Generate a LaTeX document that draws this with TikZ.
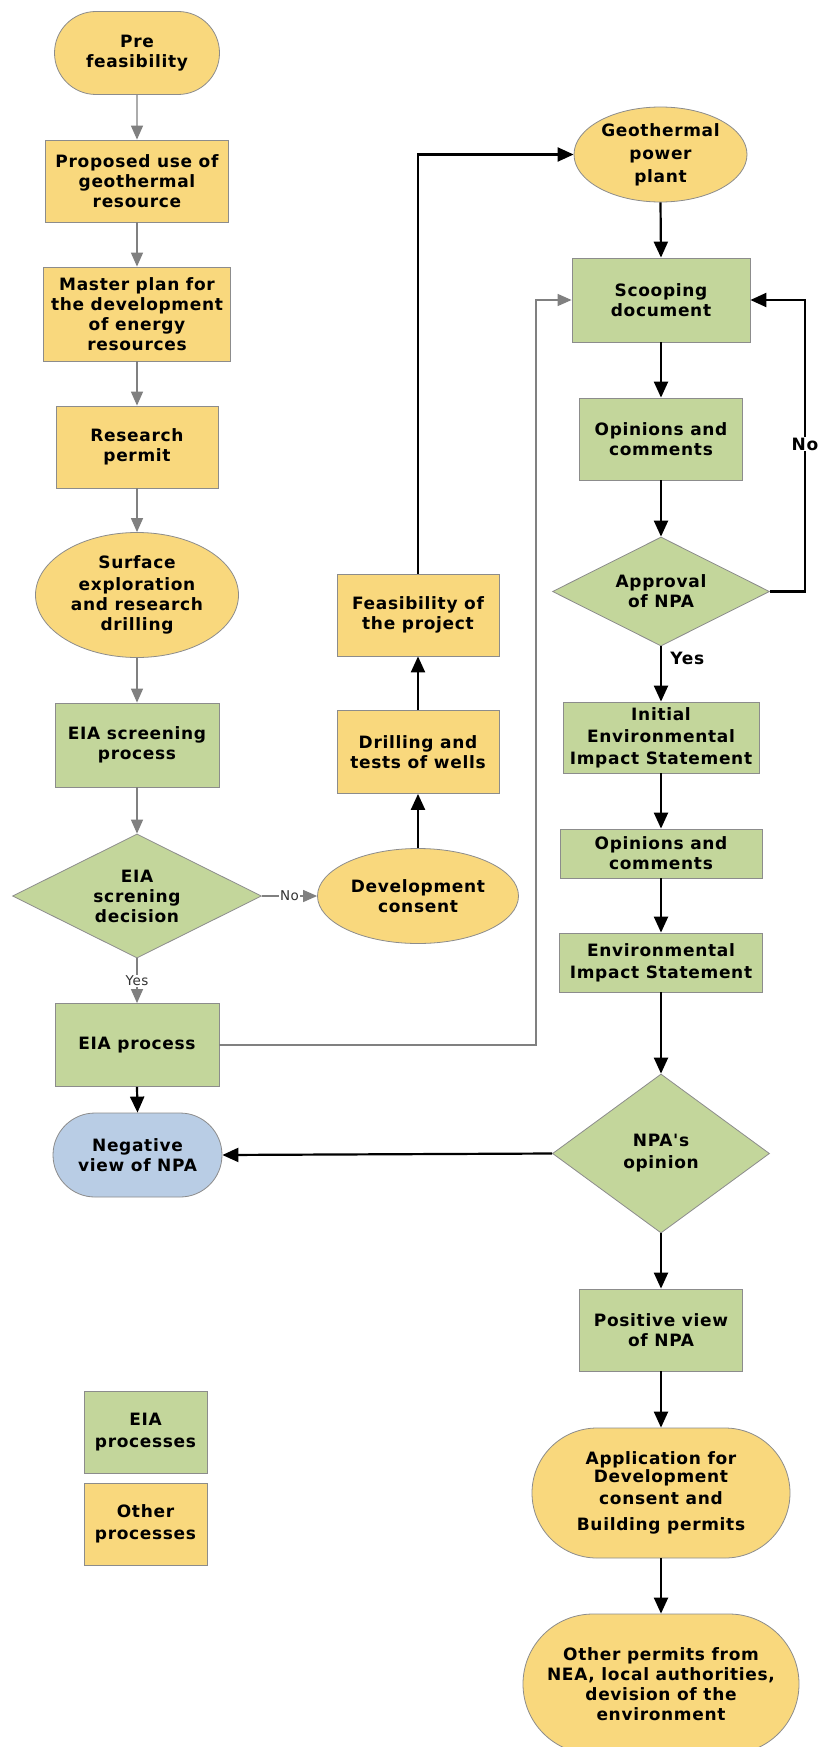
\documentclass[tikz,border=0pt]{standalone}
\usepackage{fontspec}
\setmainfont{DejaVu Sans}[Ligatures=TeXOff, LetterSpace=4]
\usetikzlibrary{shapes.geometric,shapes.misc,arrows.meta}
\definecolor{yel}{HTML}{F9D87D}
\definecolor{grn}{HTML}{C3D69B}
\definecolor{blu}{HTML}{B9CDE5}
\definecolor{bord}{HTML}{8C8C8C}
\definecolor{lgray}{HTML}{808080}
\definecolor{lbltxt}{HTML}{333333}
\newcommand{\nfont}{\fontsize{17}{20}\selectfont\bfseries}
\newcommand{\lfont}{\fontsize{13.5}{15}\selectfont}
\tikzset{
  base/.style={draw=bord, line width=0.8pt, align=center, inner sep=0pt, font=\nfont, text=black},
  sz/.style 2 args={minimum width=#1pt, minimum height=#2pt},
  ybox/.style={base, rectangle, fill=yel},
  gbox/.style={base, rectangle, fill=grn},
  ystad/.style={base, rounded rectangle, fill=yel},
  bstad/.style={base, rounded rectangle, fill=blu},
  yell/.style={base, ellipse, fill=yel},
  gdia/.style={base, diamond, aspect=2, fill=grn},
  garrow/.style={draw=lgray, line width=1.3pt, -{Triangle[width=12pt,length=14pt]}},
  barrow/.style={draw=black, line width=2.2pt, -{Triangle[width=14pt,length=16pt]}},
  glbl/.style={fill=white, font=\lfont, text=lbltxt, inner sep=1pt},
  blbl/.style={fill=white, font=\nfont, text=black, inner sep=1pt},
}
\begin{document}
\begin{tikzpicture}[x=1pt,y=-1pt]
\useasboundingbox[fill=white] (0,0) rectangle (817,1747);
% left column
\node[ystad, sz={165}{83}] (pre) at (137,53) {Pre\\feasibility};
\node[ybox, sz={183}{82}] (prop) at (137,181) {Proposed use of\\geothermal\\resource};
\node[ybox, sz={187}{94}] (master) at (137,314) {Master plan for\\the development\\of energy\\resources};
\node[ybox, sz={162}{82}] (research) at (137,447) {Research\\permit};
\node[yell, sz={203}{125}] (surface) at (137,595) {Surface\\[2pt]exploration\\and research\\drilling};
\node[gbox, sz={164}{84}] (screen) at (137,745) {EIA screening\\process};
\node[gdia, sz={249}{124}] (dec) at (137,896) {EIA\\screning\\decision};
\node[gbox, sz={164}{83}] (eiap) at (137,1045) {EIA process};
\node[bstad, sz={169}{84}] (neg) at (137.5,1155) {Negative\\view of NPA};
% middle column
\node[yell, sz={201}{95}] (dev) at (418,896) {Development\\consent};
\node[ybox, sz={162}{83}] (drill) at (418,752) {Drilling and\\tests of wells};
\node[ybox, sz={162}{82}] (feas) at (418,615) {Feasibility of\\the project};
% right column
\node[yell, sz={173}{95}] (geo) at (660.5,154.5) {Geothermal\\[3pt]power\\[3pt]plant};
\node[gbox, sz={178}{84}] (scoop) at (661,300) {Scooping\\document};
\node[gbox, sz={163}{82}] (op1) at (661,439) {Opinions and\\comments};
\node[gdia, sz={217}{109}] (appr) at (661,591.5) {Approval\\of NPA};
\node[gbox, sz={196}{71}] (ies) at (661,737.5) {Initial\\[2pt]Environmental\\[2pt]Impact Statement};
\node[gbox, sz={202}{49}] (op2) at (661,853.5) {Opinions and\\comments};
\node[gbox, sz={203}{59}] (eis) at (661,962.5) {Environmental\\[2pt]Impact Statement};
\node[gdia, sz={217}{159}] (npa) at (661,1153.5) {NPA's\\[2pt]opinion};
\node[gbox, sz={163}{82}] (pos) at (661,1330) {Positive view\\of NPA};
\node[ystad, sz={258}{130}] (app) at (661,1493) {Application for\\[-2pt]Development\\[2pt]consent and\\[6pt]Building permits};
\node[ystad, sz={276}{140}] (other) at (661,1684) {Other permits from\\NEA, local authorities,\\devision of the\\environment};
% legend
\node[gbox, sz={123}{82}] (leg1) at (145.5,1432) {EIA\\[2pt]processes};
\node[ybox, sz={123}{82}] (leg2) at (145.5,1524) {Other\\[2pt]processes};
% gray connectors
\draw[garrow] (pre) -- (prop);
\draw[garrow] (prop) -- (master);
\draw[garrow] (master) -- (research);
\draw[garrow] (research) -- (surface);
\draw[garrow] (surface) -- (screen);
\draw[garrow] (screen) -- (dec);
\draw[garrow] (dec.south) -- node[glbl]{Yes} (eiap.north);
\draw[garrow] (dec.east) -- node[glbl]{No} (dev.west);
\coordinate (gx) at (536,300);
\draw[garrow] (eiap.east) -| (gx) -- (scoop.west);
% black connectors
\draw[barrow] (eiap.south) -- (neg.north);
\draw[barrow] (dev.north) -- (drill.south);
\draw[barrow] (drill.north) -- (feas.south);
\draw[barrow] (feas.north) |- (geo.west);
\draw[barrow] (geo.south) -- (scoop.north);
\draw[barrow] (scoop.south) -- (op1.north);
\draw[barrow] (op1.south) -- (appr.north);
\coordinate (lp) at (805,444);
\draw[barrow] (appr.east) -| (lp) |- (scoop.east);
\node[blbl] (nolbl) at (lp) {No};
\draw[barrow] (appr.south) -- node[pos=0.22, anchor=west, xshift=5pt, font=\nfont]{Yes} (ies.north);
\draw[barrow] (ies.south) -- (op2.north);
\draw[barrow] (op2.south) -- (eis.north);
\draw[barrow] (eis.south) -- (npa.north);
\draw[barrow] (npa.west) -- (neg.east);
\draw[barrow] (npa.south) -- (pos.north);
\draw[barrow] (pos.south) -- (app.north);
\draw[barrow] (app.south) -- (other.north);
\end{tikzpicture}
\end{document}
